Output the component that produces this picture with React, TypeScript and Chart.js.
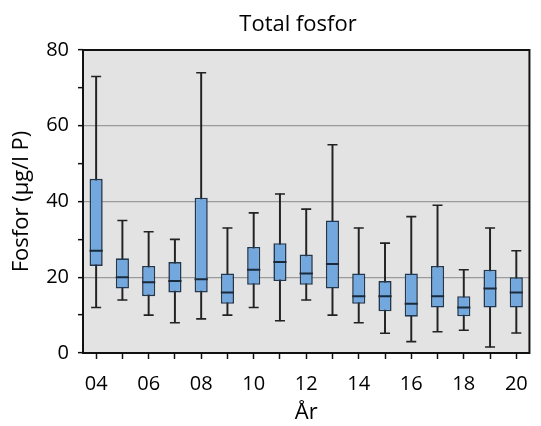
import React, { useEffect, useRef } from "react";
import { Chart, registerables } from "chart.js";

Chart.register(...registerables);

const years = ["04", "05", "06", "07", "08", "09", "10", "11", "12", "13", "14", "15", "16", "17", "18", "19", "20"];
const maxV = [73, 35, 32, 30, 74, 33, 37, 42, 38, 55, 33, 29, 36, 39, 22, 33, 27];
const q3V = [46, 25, 23, 24, 41, 21, 28, 29, 26, 35, 21, 19, 21, 23, 15, 22, 20];
const medV = [27, 20, 18.7, 19, 19.5, 16, 22, 24, 21, 23.5, 15, 15, 13, 15, 12, 17, 16];
const q1V = [23, 17, 15, 16, 16, 13, 18, 19, 18, 17, 13, 11, 9.6, 12, 9.7, 12, 12];
const minV = [12, 14, 10, 8, 9, 10, 12, 8.5, 14, 10, 8, 5.2, 3, 5.6, 6, 1.6, 5.3];

const titleText = "Total fosfor";
const yTitle = "Fosfor (µg/l P)";
const xTitle = "År";
const FONT = "'Open Sans', sans-serif";

const framePlugin = {
  id: "frame",
  beforeDraw(chart: any) {
    const { ctx, chartArea: a } = chart;
    ctx.save();
    ctx.fillStyle = "#e3e3e3";
    ctx.fillRect(a.left, a.top, a.right - a.left, a.bottom - a.top);
    ctx.restore();
  },
  afterDraw(chart: any) {
    const { ctx, chartArea: a } = chart;
    ctx.save();
    ctx.strokeStyle = "#111";
    ctx.lineWidth = 2;
    ctx.strokeRect(a.left, a.top, a.right - a.left, a.bottom - a.top);
    ctx.fillStyle = "#000";
    ctx.font = `22px ${FONT}`;
    ctx.textAlign = "center";
    ctx.textBaseline = "alphabetic";
    ctx.fillText(titleText, 298, 31);
    ctx.restore();
  },
};

export default function App() {
  const ref = useRef<HTMLCanvasElement | null>(null);
  useEffect(() => {
    if (!ref.current) return;
    const whisker = years.map((_, i) => [minV[i], maxV[i]]);
    const box = years.map((_, i) => [q1V[i], q3V[i]]);
    const chart = new Chart(ref.current, {
      type: "bar",
      data: {
        labels: years,
        datasets: [
          {
            type: "bar",
            data: whisker as any,
            backgroundColor: "#222",
            borderWidth: 0,
            barThickness: 1.3,
            grouped: false,
            order: 5,
          } as any,
          {
            type: "bar",
            data: box as any,
            backgroundColor: "#72a8de",
            borderColor: "#22384f",
            borderWidth: 1.6,
            borderSkipped: false,
            barPercentage: 0.5,
            categoryPercentage: 1,
            grouped: false,
            order: 4,
          } as any,
          {
            type: "line",
            data: maxV,
            showLine: false,
            pointStyle: "line",
            pointRadius: 5,
            pointBorderWidth: 1.6,
            pointBorderColor: "#222",
            order: 3,
          } as any,
          {
            type: "line",
            data: minV,
            showLine: false,
            pointStyle: "line",
            pointRadius: 5,
            pointBorderWidth: 1.6,
            pointBorderColor: "#222",
            order: 2,
          } as any,
          {
            type: "line",
            data: medV,
            showLine: false,
            pointStyle: "line",
            pointRadius: 6.6,
            pointBorderWidth: 2,
            pointBorderColor: "#1a2a3a",
            order: 1,
          } as any,
        ],
      },
      options: {
        animation: false,
        responsive: false,
        maintainAspectRatio: false,
        layout: { padding: { top: 50, right: 1.5, left: 0, bottom: 0 } },
        plugins: {
          legend: { display: false },
          tooltip: { enabled: false },
          title: { display: false },
        },
        scales: {
          x: {
            offset: true,
            grid: {
              display: true,
              drawOnChartArea: false,
              drawTicks: true,
              tickLength: 6,
              tickColor: "#111",
              tickWidth: 1.5,
              offset: false,
            },
            border: { display: false },
            ticks: {
              autoSkip: false,
              maxRotation: 0,
              minRotation: 0,
              padding: 13,
              color: "#000",
              font: { family: FONT, size: 20 },
              callback: (_v: any, i: number) => (i % 2 === 0 ? years[i] : ""),
            },
            title: {
              display: true,
              text: xTitle,
              color: "#000",
              font: { family: FONT, size: 22 },
              padding: { top: 0, bottom: 0 },
            },
            afterFit: (s: any) => {
              s.height = 73;
            },
          },
          y: {
            min: 0,
            max: 80,
            ticks: {
              stepSize: 10,
              padding: 9,
              color: "#000",
              font: { family: FONT, size: 20 },
              callback: (v: any) => (Number(v) % 20 === 0 ? String(v) : ""),
            },
            grid: {
              color: (c: any) => {
                const v = c.tick ? c.tick.value : 0;
                return v % 20 === 0 && v > 0 && v < 80 ? "#9a9a9a" : "rgba(0,0,0,0)";
              },
              lineWidth: 1.3,
              tickColor: "#111",
              tickLength: 5,
              tickWidth: 1.5,
            },
            border: { display: false },
            title: {
              display: true,
              text: yTitle,
              color: "#000",
              font: { family: FONT, size: 22 },
              padding: { top: 9, bottom: 4 },
            },
            afterFit: (s: any) => {
              s.width = 83;
            },
          },
        },
      },
      plugins: [framePlugin],
    });
    return () => chart.destroy();
  }, []);
  return (
    <div style={{ position: "fixed", left: 0, top: 0, width: 541, height: 426, background: "#fff" }}>
      <canvas ref={ref} width={541} height={426} style={{ width: 541, height: 426 }} />
    </div>
  );
}
